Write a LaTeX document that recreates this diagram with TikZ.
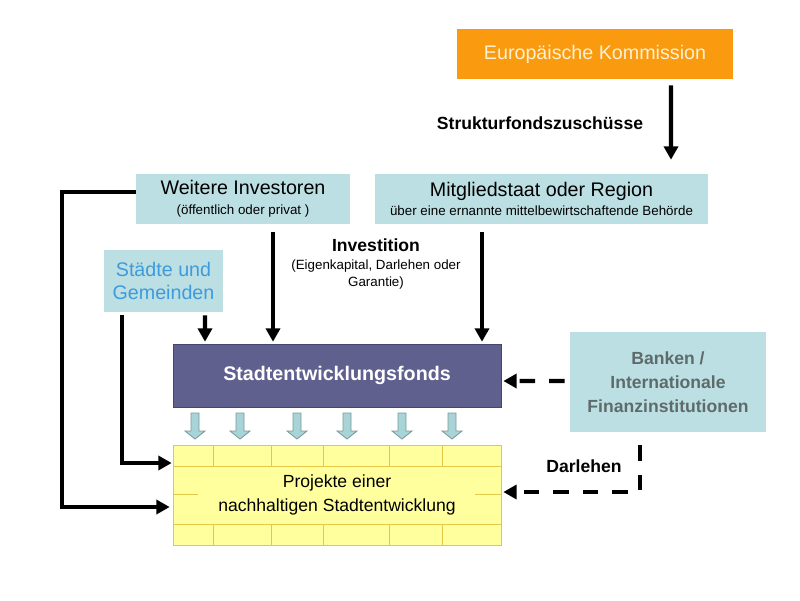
\documentclass[tikz,border=0pt]{standalone}
\usepackage{fontspec}
\setmainfont{Liberation Sans}
\usetikzlibrary{arrows.meta,calc}
\definecolor{ekorange}{HTML}{FA9A0F}
\definecolor{ektext}{HTML}{FFF0D2}
\definecolor{hellblau}{HTML}{BCDFE3}
\definecolor{staedteblau}{HTML}{3D9BDB}
\definecolor{fondsblau}{HTML}{60608F}
\definecolor{fondsrand}{HTML}{45456F}
\definecolor{projgelb}{HTML}{FFFF9E}
\definecolor{projlinie}{HTML}{E3C84A}
\definecolor{bankgrau}{HTML}{5E6B6B}
\definecolor{klpfeil}{HTML}{A8D4D8}
\definecolor{klrand}{HTML}{7A9A9C}
\newcommand\gross{\fontsize{14}{16}\selectfont}
\newcommand\mittel{\fontsize{12.5}{15.6}\selectfont}
\newcommand\klein{\fontsize{9.5}{10.6}\selectfont}
\tikzset{
  kasten/.style={fill=hellblau,inner sep=0pt,align=center},
  pfeil/.style={line width=3pt,-{Triangle[width=10pt,length=9.5pt]}},
  strich/.style={dash pattern=on 11pt off 10pt},
  block/.style={fill=klpfeil,draw=klrand,line width=0.6pt},
}
\begin{document}
\begin{tikzpicture}[x=0.025cm,y=-0.025cm]
\fill[white](0,0)rectangle(800,600);
\useasboundingbox(0,0)rectangle(800,600);
\node[fill=ekorange,minimum width=6.9cm,minimum height=1.25cm,text=ektext,font=\gross](kom)at(595,54){Europäische Kommission};
\node[kasten,minimum width=5.35cm,minimum height=1.25cm](inv)at(243,199){\gross Weitere Investoren\\[2pt]\klein (öffentlich oder privat )};
\node[kasten,minimum width=8.325cm,minimum height=1.25cm](mit)at(541.5,199){\gross Mitgliedstaat oder Region\\[2pt]\klein über eine ernannte mittelbewirtschaftende Behörde};
\node[kasten,minimum width=2.975cm,minimum height=1.55cm,text=staedteblau,font=\gross](sta)at(163.5,281){Städte und\\[1pt]Gemeinden};
\node[fill=fondsblau,draw=fondsrand,minimum width=8.2cm,minimum height=1.575cm,text=white,font=\gross\bfseries](fonds)at(337,375.5){Stadtentwicklungsfonds};
\node[fill=projgelb,draw=projlinie,minimum width=8.2cm,minimum height=2.5cm,align=center,font=\mittel](proj)at(337,495){Projekte einer\\[1pt]nachhaltigen Stadtentwicklung};
\node[kasten,minimum width=4.9cm,minimum height=2.5cm,text=bankgrau,font=\mittel\bfseries](bank)at(668,382){Banken /\\[1.5pt]Internationale\\[1.5pt]Finanzinstitutionen};
\node[font=\mittel\bfseries](struk)at(540,123){Strukturfondszuschüsse};
\node[align=center](invest)at(376,264){\mittel\bfseries Investition\\[1pt]\klein (Eigenkapital, Darlehen oder\\\klein Garantie)};
\node[font=\mittel\bfseries](darl)at(584,466){Darlehen};
\foreach \x in {213,271,323,389,442} {
  \draw[projlinie,line width=0.6pt](\x,445)--(\x,466);
  \draw[projlinie,line width=0.6pt](\x,524)--(\x,545);
}
\foreach \y in {466,524} \draw[projlinie,line width=0.6pt](173,\y)--(501,\y);
\draw[projlinie,line width=0.6pt](173,494)--(198,494) (475,494)--(501,494);
\foreach \x in {195,240,297,347,402,452}
  \draw[block](\x-4,413)--(\x+4,413)--(\x+4,431)--(\x+10,431)--(\x,439)--(\x-10,431)--(\x-4,431)--cycle;
\draw[pfeil]($(kom.south)+(76,6)$)--($(mit.north)+(129.5,-14)$);
\draw[pfeil]($(inv.south)+(30,8)$)--($(fonds.north)+(-64,-2)$);
\draw[pfeil]($(mit.south)+(-59.5,8)$)--($(fonds.north)+(145,-2)$);
\draw[pfeil]($(sta.south)+(41.5,3)$)--($(fonds.north)+(-132,-2)$);
\draw[pfeil]($(sta.south)+(-41.5,3)$)|-($(proj.west)+(-1,-32)$);
\draw[pfeil]($(inv.west)+(0,-7)$)--++(-74,0)|-($(proj.west)+(-3,12)$);
\draw[pfeil,strich]($(bank.west)+(-5,-1)$)--($(fonds.east)+(2,5.5)$);
\draw[pfeil,strich]($(bank.south)+(-28,13)$)|-($(proj.east)+(2,-3)$);
\end{tikzpicture}
\end{document}
